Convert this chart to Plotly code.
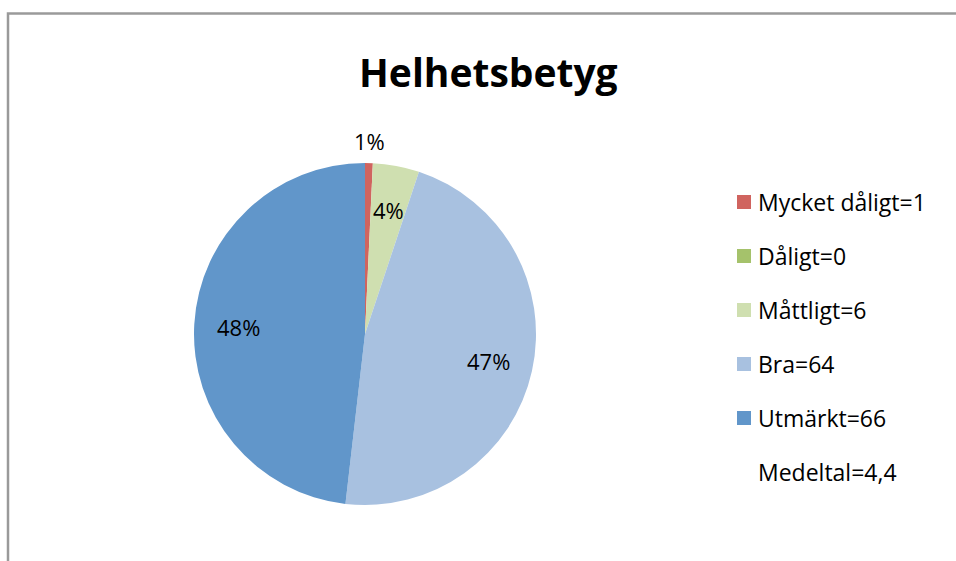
import math
import plotly.graph_objects as go

# Data
categories = ["Mycket dåligt", "Dåligt", "Måttligt", "Bra", "Utmärkt"]
values = [1, 0, 6, 64, 66]
colors = ["#D0645F", "#A5C26B", "#CFDFB0", "#A8C1E0", "#6196CA"]
extra_legend_text = "Medeltal=4,4"
title_text = "Helhetsbetyg"

W, H = 956, 561
total = sum(values)
legend_labels = [f"{c}={v}" for c, v in zip(categories, values)] + [extra_legend_text]

FONT = "Open Sans"

cx, cy, r = 365, 334, 171  # pie center & radius in px

fig = go.Figure()
fig.add_trace(go.Pie(
    labels=categories,
    values=values,
    textinfo="none",
    sort=False,
    direction="clockwise",
    rotation=0,
    marker=dict(colors=colors, line=dict(width=0)),
    domain=dict(x=[(cx - r) / W, (cx + r) / W], y=[1 - (cy + r) / H, 1 - (cy - r) / H]),
    showlegend=False,
    hoverinfo="label+value+percent",
))

shapes = []
annotations = []

# Percentage labels, placed from the slice angles (clockwise from 12 o'clock)
cum = 0
for v in values:
    if v > 0:
        mid = (cum + v / 2) / total * 2 * math.pi
        frac = v / total
        rr = r + 22 if frac < 0.02 else 0.74 * r
        px = cx + rr * math.sin(mid)
        py = cy - rr * math.cos(mid)
        annotations.append(dict(text=f"{round(frac * 100)}%", xref="paper", yref="paper",
                                x=px / W, y=1 - py / H, xanchor="center", yanchor="middle",
                                showarrow=False,
                                font=dict(family=FONT, size=22, color="#000000")))
    cum += v

# Frame (top and left visible)
shapes.append(dict(type="path", xref="paper", yref="paper",
                   path=f"M 1.01,{1 - 13.5 / H} L {8 / W},{1 - 13.5 / H} L {8 / W},-0.01",
                   line=dict(color="#9A9A9A", width=2.5)))

# Manual legend
lx, ly0, dy = 744, 202, 54
for i, lab in enumerate(legend_labels):
    y = ly0 + i * dy
    if i < len(colors):
        shapes.append(dict(type="rect", xref="paper", yref="paper",
                           x0=(lx - 7) / W, x1=(lx + 7) / W,
                           y0=1 - (y + 7) / H, y1=1 - (y - 7) / H,
                           fillcolor=colors[i], line=dict(width=0)))
    annotations.append(dict(text=lab, xref="paper", yref="paper",
                            x=(lx + 12) / W, y=1 - y / H, xanchor="left", yanchor="middle",
                            showarrow=False,
                            font=dict(family=FONT, size=23, color="#000000")))

# Title
annotations.append(dict(text=f"<b>{title_text}</b>", xref="paper", yref="paper",
                        x=488 / W, y=1 - 71 / H, xanchor="center", yanchor="middle",
                        showarrow=False, font=dict(family=FONT, size=39, color="#000000")))

fig.update_layout(
    width=W, height=H,
    margin=dict(l=0, r=0, t=0, b=0),
    paper_bgcolor="white", plot_bgcolor="white",
    shapes=shapes, annotations=annotations,
    showlegend=False,
)

fig.write_html("out.html")
